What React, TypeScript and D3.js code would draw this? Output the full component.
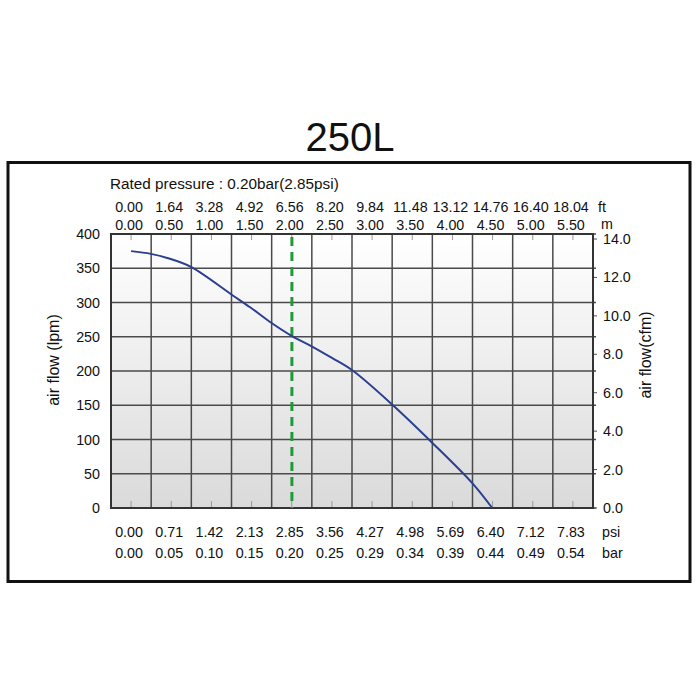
import React from "react";
import * as d3 from "d3";

const title = "250L";
const ratedLabel = "Rated pressure : 0.20bar(2.85psi)";
const ratedPsi = 2.85;

const psiTicks = ["0.00", "0.71", "1.42", "2.13", "2.85", "3.56", "4.27", "4.98", "5.69", "6.40", "7.12", "7.83"];
const barTicks = ["0.00", "0.05", "0.10", "0.15", "0.20", "0.25", "0.29", "0.34", "0.39", "0.44", "0.49", "0.54"];
const ftTicks = ["0.00", "1.64", "3.28", "4.92", "6.56", "8.20", "9.84", "11.48", "13.12", "14.76", "16.40", "18.04"];
const mTicks = ["0.00", "0.50", "1.00", "1.50", "2.00", "2.50", "3.00", "3.50", "4.00", "4.50", "5.00", "5.50"];

const lpmTicks = [0, 50, 100, 150, 200, 250, 300, 350, 400];
const cfmTicks = [0, 2, 4, 6, 8, 10, 12, 14];

// curve: pressure (psi) vs air flow (lpm)
const curvePsi = [0, 0.35, 0.64, 1.06, 1.79, 2.11, 2.49, 2.85, 3.2, 3.56, 3.92, 4.64, 5.34, 6.05, 6.4];
const curveLpm = [375, 371, 365, 352, 311, 293, 270, 251, 236, 219, 201, 150, 95, 36, 0];

const FONT = "'Liberation Sans', Arial, Helvetica, sans-serif";

export default function App() {
  const left = 111, right = 593, top = 234, bottom = 508;
  const n = psiTicks.length;
  const step = (+psiTicks[n - 1] - +psiTicks[0]) / (n - 1);
  const x = d3.scaleLinear().domain([-step / 2, +psiTicks[n - 1] + step / 2]).range([left, right]);
  const colW = (right - left) / n;
  const colCenter = (i: number) => left + (i + 0.5) * colW;
  const y = d3.scaleLinear().domain([0, 400]).range([bottom, top]);
  const yR = d3.scaleLinear().domain([0, 14]).range([bottom, 239]);

  const pts = curvePsi.map((p, i) => [p, curveLpm[i]] as [number, number]);
  const line = d3
    .line<[number, number]>()
    .x((d) => x(d[0]))
    .y((d) => y(d[1]))
    .curve(d3.curveCatmullRom.alpha(0.5));

  const gridColor = "#4a4a4a";
  const txt = { fontFamily: FONT, fontSize: 14.3, fill: "#111" } as const;

  return (
    <svg
      width={700}
      height={700}
      style={{ position: "absolute", left: 0, top: 0, background: "#fff" }}
    >
      <defs>
        <linearGradient id="bg" x1="0" y1="0" x2="0" y2="1">
          <stop offset="0%" stopColor="#ffffff" />
          <stop offset="100%" stopColor="#dadada" />
        </linearGradient>
      </defs>
      <rect x={0} y={0} width={700} height={700} fill="#fff" />
      <text x={350} y={151} textAnchor="middle" fontFamily={FONT} fontSize={40} fill="#111">
        {title}
      </text>
      <rect x={8} y={162.5} width={682} height={419} fill="none" stroke="#111" strokeWidth={3} />

      <rect x={left} y={top} width={right - left} height={bottom - top} fill="url(#bg)" />

      {/* vertical grid */}
      {d3.range(n + 1).map((k) => (
        <line
          key={"v" + k}
          x1={left + k * colW}
          x2={left + k * colW}
          y1={top}
          y2={bottom}
          stroke={gridColor}
          strokeWidth={1.5}
        />
      ))}
      {/* horizontal grid */}
      {lpmTicks.map((v) => (
        <line key={"h" + v} x1={left} x2={right + 3} y1={y(v)} y2={y(v)} stroke={gridColor} strokeWidth={1.5} />
      ))}
      {/* minor ticks */}
      {d3.range(n).map((i) => (
        <g key={"t" + i}>
          <line x1={colCenter(i)} x2={colCenter(i)} y1={top} y2={top + 6} stroke="#999" strokeWidth={1} />
          <line x1={colCenter(i)} x2={colCenter(i)} y1={bottom} y2={bottom - 7} stroke="#999" strokeWidth={1} />
        </g>
      ))}
      {cfmTicks.map((v) => (
        <line key={"r" + v} x1={right} x2={right + 4} y1={yR(v)} y2={yR(v)} stroke="#555" strokeWidth={1} />
      ))}
      {/* border */}
      <rect x={left} y={top} width={right - left} height={bottom - top} fill="none" stroke="#333" strokeWidth={2} />

      {/* rated pressure dashed line */}
      <line
        x1={x(ratedPsi)}
        x2={x(ratedPsi)}
        y1={top + 3}
        y2={bottom}
        stroke="#1f9a3a"
        strokeWidth={3}
        strokeDasharray="9,6"
      />
      {/* curve */}
      <path d={line(pts) || ""} fill="none" stroke="#2a3f8f" strokeWidth={2} />

      {/* top labels */}
      <text x={110} y={189} {...txt} fontSize={15.3}>
        {ratedLabel}
      </text>
      {ftTicks.map((t, i) => (
        <text key={"ft" + i} x={colCenter(i) - 2} y={212} textAnchor="middle" {...txt}>
          {t}
        </text>
      ))}
      {mTicks.map((t, i) => (
        <text key={"m" + i} x={colCenter(i) - 2} y={230} textAnchor="middle" {...txt}>
          {t}
        </text>
      ))}
      <text x={598} y={212} {...txt}>ft</text>
      <text x={601} y={229} {...txt}>m</text>

      {/* bottom labels */}
      {psiTicks.map((t, i) => (
        <text key={"psi" + i} x={colCenter(i) - 2} y={537} textAnchor="middle" {...txt}>
          {t}
        </text>
      ))}
      {barTicks.map((t, i) => (
        <text key={"bar" + i} x={colCenter(i) - 2} y={558} textAnchor="middle" {...txt}>
          {t}
        </text>
      ))}
      <text x={602} y={537} {...txt}>psi</text>
      <text x={602} y={558} {...txt}>bar</text>

      {/* left axis labels */}
      {lpmTicks.map((v) => (
        <text key={"l" + v} x={100} y={y(v) + 5} textAnchor="end" {...txt}>
          {v}
        </text>
      ))}
      {/* right axis labels */}
      {cfmTicks.map((v) => (
        <text key={"rl" + v} x={603} y={yR(v) + 5} {...txt}>
          {v.toFixed(1)}
        </text>
      ))}

      <text
        transform="translate(59,360) rotate(-90)"
        textAnchor="middle"
        fontFamily={FONT}
        fontSize={16}
        fill="#111"
      >
        air flow (lpm)
      </text>
      <text
        transform="translate(651,355) rotate(-90)"
        textAnchor="middle"
        fontFamily={FONT}
        fontSize={16}
        fill="#111"
      >
        air flow(cfm)
      </text>
    </svg>
  );
}
